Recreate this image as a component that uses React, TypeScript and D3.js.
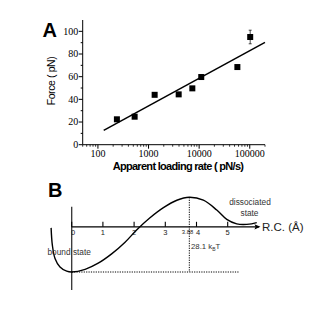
import { curveCatmullRom, line, range, scaleLinear, scaleLog } from "d3";

// Panel A: rupture force vs apparent loading rate
const loadingRates = [237, 531, 1320, 3940, 7330, 11000, 56900, 102000];
const forces = [22.4, 24.7, 44, 44.4, 49.7, 59.7, 68.5, 95];
const forceErrors = [0, 0, 0, 0, 0, 0, 0, 6];
const fitRates = [130, 200000];
const fitForces = [12.7, 90.3];
const rateTicks = [100, 1000, 10000, 100000];
const forceTicks = [0, 20, 40, 60, 80, 100];

// Panel B: energy landscape along reaction coordinate (Å, kBT above bound state)
const rcValues = [-0.66, -0.62, -0.535, -0.375, -0.16, 0, 0.43, 0.85, 1.28, 1.71, 2.08, 2.5, 2.94, 3.37, 3.77, 4.22, 4.65, 4.97, 5.29, 5.61, 5.93];
const energies = [16.6, 10.1, 5.1, 1.9, 0.3, 0, 1.0, 3.3, 6.8, 11.2, 15.8, 20.3, 24.2, 27.0, 28.1, 27.0, 23.3, 19.8, 18.1, 17.9, 18.6];
const rcTicks = [0, 1, 2, 3, 4, 5];
const barrierRc = 3.77;
const barrierHeight = 28.1;
const axisEnergy = 17;

const serif = "'Liberation Serif', 'Times New Roman', serif";
const sans = "'Liberation Sans', Arial, sans-serif";

export default function App(): React.JSX.Element {
  return (
    <svg
      width={334}
      height={315}
      viewBox="0 0 334 315"
      style={{ position: "absolute", left: 0, top: 0, background: "#fff" }}
    >
      <PanelA />
      <PanelB />
    </svg>
  );
}

function PanelA(): React.JSX.Element {
  const x = scaleLog().domain([50, 200000]).range([82.7, 265]);
  const y = scaleLinear().domain([0, 110]).range([144.7, 20]);
  const [x0, x1] = x.range();
  const [y0, y1] = y.range();
  const minorRates: number[] = [];
  for (let d = 10; d <= 100000; d *= 10) {
    for (let m = 1; m <= 9; m++) {
      const v = d * m;
      if (v >= 50 && v <= 200000 && !rateTicks.includes(v)) minorRates.push(v);
    }
  }
  const minorForces = range(10, 110, 20);
  const fit = line<number>()
    .x((_, i) => x(fitRates[i]))
    .y((_, i) => y(fitForces[i]));

  return (
    <g>
      <text x={42.5} y={36.7} fontFamily={sans} fontWeight="bold" fontSize={20}>
        A
      </text>
      {/* axes */}
      <line x1={x0} x2={x0} y1={y0} y2={y1} stroke="#000" strokeWidth={1} />
      <line x1={x0} x2={x1} y1={y0} y2={y0} stroke="#000" strokeWidth={1} />
      {forceTicks.map((t) => (
        <g key={`yt${t}`}>
          <line x1={x0 - 4} x2={x0} y1={y(t)} y2={y(t)} stroke="#000" />
          <text x={x0 - 4.5} y={y(t) + 3.4} textAnchor="end" fontFamily={serif} fontSize={10}>
            {t}
          </text>
        </g>
      ))}
      {minorForces.map((t) => (
        <line key={`ym${t}`} x1={x0 - 2} x2={x0} y1={y(t)} y2={y(t)} stroke="#000" />
      ))}
      {rateTicks.map((t) => (
        <g key={`xt${t}`}>
          <line x1={x(t)} x2={x(t)} y1={y0} y2={y0 + 4} stroke="#000" />
          <text x={x(t)} y={y0 + 12.5} textAnchor="middle" fontFamily={serif} fontSize={10}>
            {t}
          </text>
        </g>
      ))}
      {minorRates.map((t) => (
        <line key={`xm${t}`} x1={x(t)} x2={x(t)} y1={y0} y2={y0 + 2} stroke="#000" strokeWidth={0.8} />
      ))}
      <text
        transform={`translate(55,81) rotate(-90)`}
        textAnchor="middle"
        fontFamily={sans}
        fontSize={10.5}
        letterSpacing={-0.4}
      >
        Force (  pN)
      </text>
      <text
        x={178}
        y={170}
        textAnchor="middle"
        fontFamily={sans}
        fontWeight="bold"
        fontSize={11}
        letterSpacing={-0.7}
      >
        Apparent loading rate (  pN/s)
      </text>
      {/* fit */}
      <path d={fit(fitRates) ?? ""} fill="none" stroke="#000" strokeWidth={1.5} />
      {/* data */}
      {loadingRates.map((r, i) =>
        forceErrors[i] > 0 ? (
          <g key={`e${r}`} stroke="#000" strokeWidth={0.7}>
            <line x1={x(r)} x2={x(r)} y1={y(forces[i] - forceErrors[i])} y2={y(forces[i] + forceErrors[i])} />
            <line x1={x(r) - 1.5} x2={x(r) + 1.5} y1={y(forces[i] + forceErrors[i])} y2={y(forces[i] + forceErrors[i])} />
            <line x1={x(r) - 1.5} x2={x(r) + 1.5} y1={y(forces[i] - forceErrors[i])} y2={y(forces[i] - forceErrors[i])} />
          </g>
        ) : null
      )}
      {loadingRates.map((r, i) => (
        <rect key={`p${r}`} x={x(r) - 3} y={y(forces[i]) - 3} width={6} height={6} fill="#000" />
      ))}
    </g>
  );
}

function PanelB(): React.JSX.Element {
  const x = scaleLinear().domain([0, 5]).range([71.7, 227.7]);
  const y = scaleLinear().domain([0, barrierHeight]).range([272, 197.3]);
  const axisY = y(axisEnergy);
  const curve = line<number>()
    .curve(curveCatmullRom.alpha(0.5))
    .x((_, i) => x(rcValues[i]))
    .y((_, i) => y(energies[i]));

  return (
    <g>
      <text x={48} y={197} fontFamily={sans} fontWeight="bold" fontSize={20}>
        B
      </text>
      {/* vertical axis at RC 0 */}
      <line x1={x(0)} x2={x(0)} y1={y(24.5)} y2={y(-6.8)} stroke="#333" strokeWidth={1.3} />
      {/* RC axis with arrow */}
      <line x1={x(0)} x2={x(6.0)} y1={axisY} y2={axisY} stroke="#000" strokeWidth={1.2} />
      <path d={`M${x(6.05)},${axisY} l-6,-2.6 l1.2,2.6 l-1.2,2.6 z`} fill="#000" />
      {rcTicks.map((t) => (
        <g key={`rt${t}`}>
          <line x1={x(t)} x2={x(t)} y1={axisY - 5} y2={axisY} stroke="#000" strokeWidth={1.1} />
          <text
            x={x(t) + (t === 0 ? 1.5 : t === 4 ? 1.5 : 0)}
            y={axisY + 8.3}
            textAnchor="middle"
            fontFamily={sans}
            fontSize={7.5}
            fill="#222"
          >
            {t}
          </text>
        </g>
      ))}
      <text x={187.5} y={axisY + 7.5} textAnchor="middle" fontFamily={sans} fontSize={5.8} fill="#222">
        3.88
      </text>
      <text x={262} y={axisY + 4} fontFamily={sans} fontSize={11.5} fill="#222">
        R.C. (Å)
      </text>
      {/* dotted guides */}
      <line x1={x(0)} x2={x(5.35)} y1={y(0)} y2={y(0)} stroke="#000" strokeWidth={1} strokeDasharray="1.2,1.2" />
      <line
        x1={x(barrierRc)}
        x2={x(barrierRc)}
        y1={y(barrierHeight)}
        y2={y(0)}
        stroke="#000"
        strokeWidth={1}
        strokeDasharray="1.2,1.2"
      />
      {/* energy curve */}
      <path d={curve(rcValues) ?? ""} fill="none" stroke="#000" strokeWidth={1.4} />
      <text x={47.5} y={254.5} fontFamily={sans} fontSize={8.3} fill="#333">
        bound state
      </text>
      <text x={250} y={205} textAnchor="middle" fontFamily={sans} fontSize={8.3} fill="#333">
        dissociated
      </text>
      <text x={249.5} y={216} textAnchor="middle" fontFamily={sans} fontSize={8.3} fill="#333">
        state
      </text>
      <text x={191} y={249.3} fontFamily={sans} fontSize={7.8} fill="#333">
        28.1 k
        <tspan fontSize={5} dy={1.5}>
          B
        </tspan>
        <tspan dy={-1.5}>T</tspan>
      </text>
    </g>
  );
}
